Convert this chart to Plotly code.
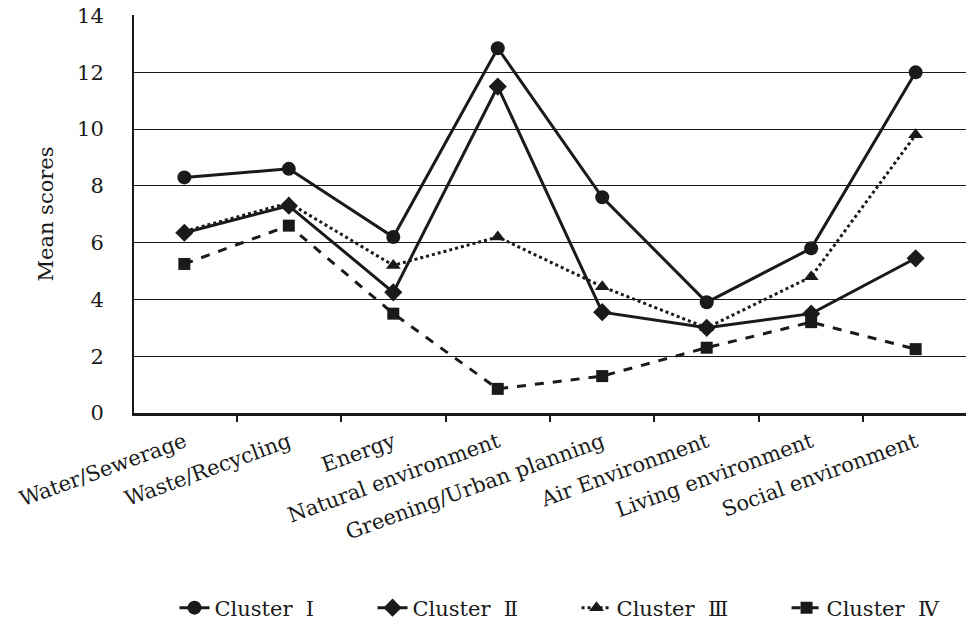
import plotly.graph_objects as go

categories = ["Water/Sewerage", "Waste/Recycling", "Energy", "Natural environment",
              "Greening/Urban planning", "Air Environment", "Living environment", "Social environment"]
cluster_1 = [8.3, 8.6, 6.2, 12.85, 7.6, 3.9, 5.8, 12.0]
cluster_2 = [6.35, 7.3, 4.25, 11.5, 3.55, 3.0, 3.5, 5.45]
cluster_3 = [6.4, 7.4, 5.2, 6.2, 4.45, 3.0, 4.8, 9.8]
cluster_4 = [5.25, 6.6, 3.5, 0.85, 1.3, 2.3, 3.2, 2.25]
NB = "\u00a0"
series_names = ["Cluster" + NB * 2 + "Ⅰ" + NB * 8, "Cluster" + NB * 2 + "Ⅱ" + NB * 8,
                "Cluster" + NB * 2 + "Ⅲ" + NB * 8, "Cluster" + NB * 2 + "Ⅳ"]
y_ticks = [0, 2, 4, 6, 8, 10, 12, 14]

FONT = "DejaVu Serif"
fig = go.Figure()
styles = [
    dict(dash="solid", symbol="circle", size=14),
    dict(dash="solid", symbol="diamond", size=14),
    dict(dash="dot", symbol="triangle-up", size=13),
    dict(dash="dash", symbol="square", size=12),
]
for name, vals, st in zip(series_names, [cluster_1, cluster_2, cluster_3, cluster_4], styles):
    fig.add_trace(go.Scatter(
        x=categories, y=vals, name=name, mode="lines+markers",
        line=dict(color="#1a1a1a", width=3, dash=st["dash"]),
        marker=dict(symbol=st["symbol"], size=st["size"], color="#1a1a1a"),
    ))

fig.update_layout(
    width=966, height=630,
    margin=dict(l=134, r=0, t=15, b=217, autoexpand=False),
    plot_bgcolor="white", paper_bgcolor="white",
    font=dict(family=FONT, size=21, color="#1a1a1a"),
    showlegend=True,
    legend=dict(orientation="h", x=0.512, xanchor="center", y=-0.49, yanchor="middle",
                font=dict(size=21, family=FONT), tracegroupgap=0),
)
fig.update_xaxes(
    type="category", tickangle=-20, tickson="boundaries", automargin=False,
    ticks="outside", ticklen=6, tickcolor="#1a1a1a", tickwidth=1.5,
    showline=True, linecolor="#1a1a1a", linewidth=2.5, showgrid=False,
    ticklabelstandoff=6, tickfont=dict(size=21, family=FONT),
)
fig.update_yaxes(
    range=[0, 14.02], tickvals=y_ticks, showgrid=True, gridcolor="#1a1a1a", gridwidth=1.2,
    showline=True, linecolor="#1a1a1a", linewidth=2, zeroline=False, automargin=False,
    ticklabelstandoff=24, ticklabeloverflow="allow", tickfont=dict(size=21, family=FONT),
    title=dict(text="Mean scores", font=dict(size=21, family=FONT), standoff=18),
)
fig.write_html("out.html", config={"displayModeBar": False},
               post_script="document.body.style.margin='0';")
